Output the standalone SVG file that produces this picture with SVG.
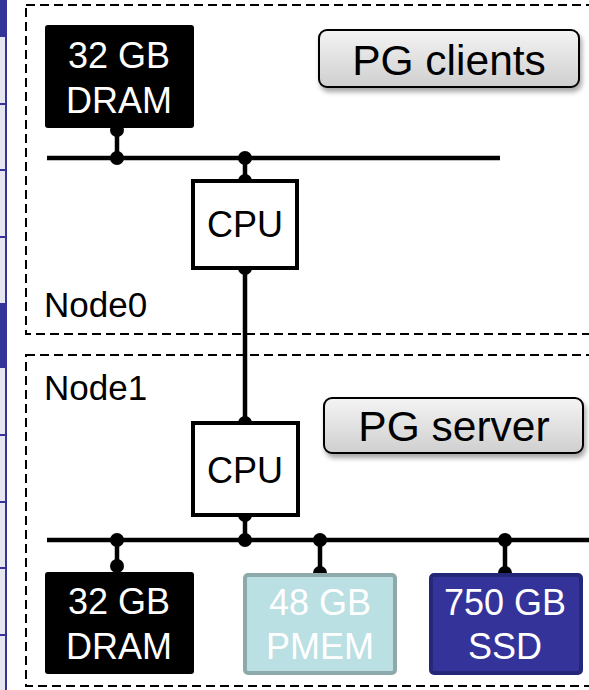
<svg xmlns="http://www.w3.org/2000/svg" width="589" height="690" viewBox="0 0 589 690">
<style>
text{font-family:"Liberation Sans",Arial,sans-serif;}
.dash{fill:none;stroke:#000;stroke-width:2;stroke-dasharray:9 5;}
.wire{stroke:#000;stroke-width:4.5;fill:none;}
.dot{fill:#000;}
.cpu{fill:#fff;stroke:#000;stroke-width:4;}
.wt{fill:#fff;font-size:36px;text-anchor:middle;}
.ct{fill:#000;font-size:36px;text-anchor:middle;}
.bt{fill:#000;font-size:42.5px;text-anchor:middle;}
.lbl{fill:#000;font-size:35px;}
.btn{fill:url(#g);stroke:#000;stroke-width:2;filter:url(#sh);}
.strip{stroke:#333399;stroke-width:2;}
</style>
<defs>
<linearGradient id="g" x1="0" y1="0" x2="0" y2="1">
<stop offset="0" stop-color="#f4f4f4"/>
<stop offset="1" stop-color="#cfcfcf"/>
</linearGradient>
<filter id="sh" x="-10%" y="-20%" width="125%" height="160%">
<feDropShadow dx="2" dy="4" stdDeviation="2.5" flood-color="#000" flood-opacity="0.35"/>
</filter>
</defs>
<rect width="589" height="690" fill="#fff"/>
<g id="strip">
<rect x="0" y="0" width="7" height="690" fill="#e6e6f0"/>
<line class="strip" x1="6" y1="0" x2="6" y2="690"/>
<rect x="0" y="0" width="7" height="37" fill="#333399"/>
<rect x="0" y="303" width="7" height="65" fill="#333399"/>
<g class="strip">
<line x1="0" y1="104" x2="7" y2="104"/>
<line x1="0" y1="170" x2="7" y2="170"/>
<line x1="0" y1="237" x2="7" y2="237"/>
<line x1="0" y1="435" x2="7" y2="435"/>
<line x1="0" y1="502" x2="7" y2="502"/>
<line x1="0" y1="568" x2="7" y2="568"/>
<line x1="0" y1="635" x2="7" y2="635"/>
</g>
</g>
<g id="node0">
<rect class="dash" x="26" y="5" width="580" height="329"/>
<text class="lbl" x="44" y="317">Node0</text>
</g>
<g id="node1">
<rect class="dash" x="26" y="355" width="580" height="331"/>
<text class="lbl" x="44" y="400">Node1</text>
</g>
<g id="connectors">
<line class="wire" x1="47" y1="158" x2="500" y2="158"/>
<line class="wire" x1="117" y1="128" x2="117" y2="158"/>
<line class="wire" x1="245" y1="158" x2="245" y2="181"/>
<line class="wire" x1="245" y1="268" x2="245" y2="423"/>
<line class="wire" x1="47" y1="540" x2="589" y2="540"/>
<line class="wire" x1="245" y1="515" x2="245" y2="540"/>
<line class="wire" x1="117" y1="540" x2="117" y2="572"/>
<line class="wire" x1="320" y1="540" x2="320" y2="573"/>
<line class="wire" x1="505" y1="540" x2="505" y2="573"/>
<g class="dot">
<circle cx="117" cy="130" r="7"/>
<circle cx="117" cy="158" r="7"/>
<circle cx="245" cy="158" r="7"/>
<circle cx="245" cy="181" r="7"/>
<circle cx="245" cy="268" r="7"/>
<circle cx="245" cy="423" r="7"/>
<circle cx="245" cy="515" r="7"/>
<circle cx="245" cy="540" r="7"/>
<circle cx="117" cy="540" r="7"/>
<circle cx="117" cy="566" r="7"/>
<circle cx="320" cy="540" r="7"/>
<circle cx="320" cy="573" r="7"/>
<circle cx="505" cy="540" r="7"/>
<circle cx="505" cy="573" r="7"/>
</g>
</g>
<g id="dram0">
<rect x="45" y="25" width="149" height="103" rx="3" fill="#000"/>
<text class="wt" x="119" y="68">32 GB</text>
<text class="wt" x="119" y="113">DRAM</text>
</g>
<g id="cpu0">
<rect class="cpu" x="193" y="181" width="104" height="87"/>
<text class="ct" x="245" y="237">CPU</text>
</g>
<g id="pgclients">
<rect class="btn" x="319" y="30" width="260" height="57" rx="8"/>
<text class="bt" x="449" y="75">PG clients</text>
</g>
<g id="cpu1">
<rect class="cpu" x="193" y="423" width="105" height="92"/>
<text class="ct" x="245" y="483">CPU</text>
</g>
<g id="pgserver">
<rect class="btn" x="324" y="398" width="259" height="55" rx="8"/>
<text class="bt" x="454" y="441">PG server</text>
</g>
<g id="dram1">
<rect x="45" y="572" width="149" height="102" rx="3" fill="#000"/>
<text class="wt" x="119" y="614">32 GB</text>
<text class="wt" x="119" y="659">DRAM</text>
</g>
<g id="pmem">
<rect x="245" y="575" width="150" height="98" rx="3" fill="#bae0e4" stroke="#8ea9aa" stroke-width="4"/>
<text class="wt" x="320" y="615">48 GB</text>
<text class="wt" x="320" y="659">PMEM</text>
</g>
<g id="ssd">
<rect x="431" y="575" width="150" height="98" rx="3" fill="#333399" stroke="#27277a" stroke-width="4"/>
<text class="wt" x="505" y="615">750 GB</text>
<text class="wt" x="505" y="659">SSD</text>
</g>
</svg>
